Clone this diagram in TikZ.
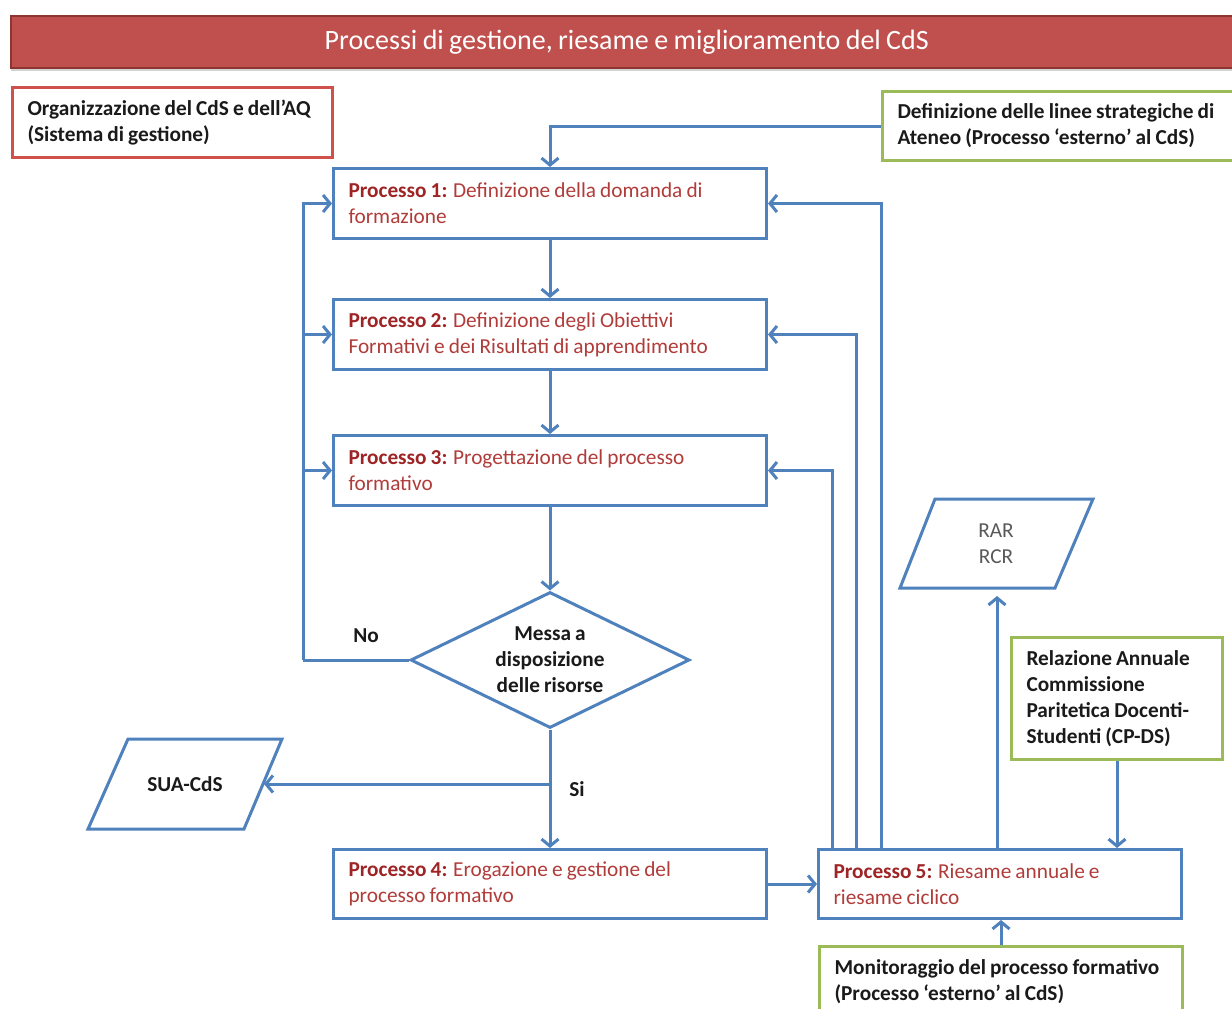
\documentclass[tikz,border=0pt]{standalone}
\usepackage{fontspec}
\setmainfont{Carlito}[WordSpace={0.85,0,0}]
\usetikzlibrary{arrows.meta,shapes.geometric,shadows}
\definecolor{lblue}{HTML}{4F81BD}
\definecolor{tred}{HTML}{C0504D}
\definecolor{tredborder}{HTML}{8E3431}
\definecolor{pdark}{HTML}{9E2426}
\definecolor{ptext}{HTML}{B03C3A}
\definecolor{lgreen}{HTML}{9BBB59}
\definecolor{orgred}{HTML}{D0504D}
\definecolor{txt}{HTML}{1A1A1A}
\definecolor{graytxt}{HTML}{595959}
\begin{document}
\begin{tikzpicture}[x=1pt,y=-1pt,
  base/.style={font=\fontsize{21.3pt}{26pt}\selectfont},
  bbase/.style={font=\fontsize{21.3pt}{26pt}\selectfont\bfseries},
  proc/.style={base, draw=lblue, line width=3pt, text=ptext, align=flush left, text width=403pt, inner xsep=15pt, inner ysep=0pt, minimum height=70pt, anchor=north west},
  gbox/.style={bbase, draw=lgreen, line width=3pt, text=txt, align=flush left, inner xsep=15pt, inner ysep=0pt, anchor=north west},
  conn/.style={draw=lblue, line width=3pt},
  arr/.style={conn, -{Straight Barb[length=7pt,width=17pt]}},
  lbl/.style={bbase, text=txt, inner sep=0pt}
]
\useasboundingbox (0,0) rectangle (1232,1009);

% title bar
\node[fill=tred, draw=tredborder, line width=1.5pt, text=white, minimum width=1232pt, minimum height=52pt, anchor=north west, font=\fontsize{28pt}{32pt}\selectfont, drop shadow={shadow xshift=0pt, shadow yshift=-3pt, opacity=0.35}] (title) at (10,15) {Processi di gestione, riesame e miglioramento del CdS};

% organisation box
\node[bbase, draw=orgred, line width=3pt, text=txt, align=flush left, text width=290pt, inner xsep=15pt, inner ysep=0pt, minimum height=70pt, anchor=north west] (org) at (11,86) {Organizzazione del CdS e dell’AQ\\(Sistema di gestione)};

% strategic lines box
\node[gbox, text width=340pt, minimum height=69pt] (def) at (881,90) {Definizione delle linee strategiche di\\Ateneo (Processo ‘esterno’ al CdS)};

% process boxes
\node[proc] (p1) at (332,167) {\textbf{\color{pdark}Processo 1:} Definizione della domanda di\\formazione};
\node[proc] (p2) at (332,298) {\textbf{\color{pdark}Processo 2:} Definizione degli Obiettivi\\Formativi e dei Risultati di apprendimento};
\node[proc] (p3) at (332,434) {\textbf{\color{pdark}Processo 3:} Progettazione del processo\\formativo};
\node[proc, minimum height=69pt] (p4) at (332,848) {\textbf{\color{pdark}Processo 4:} Erogazione e gestione del\\processo formativo};
\node[proc, text width=333pt, minimum height=69pt] (p5) at (817,848) {\textbf{\color{pdark}Processo 5:} Riesame annuale e\\riesame ciclico};

% decision
\node[diamond, draw=lblue, line width=3pt, inner sep=0pt, minimum width=279pt, minimum height=136pt] (dia) at (550,660) {};
\node[lbl, align=center] (diatext) at (dia.center) {Messa a\\disposizione\\delle risorse};

% documents (parallelograms)
\draw[conn, line join=miter] (935,499) -- (1093,499) -- (1055,588) -- (900,588) -- cycle;
\node[base, text=graytxt, align=center, inner sep=0pt] (rar) at (996,544) {RAR\\RCR};
\draw[conn, line join=miter] (128,739) -- (282,739) -- (244,829) -- (88,829) -- cycle;
\node[lbl] (sua) at (185,784) {SUA-CdS};

% CP-DS report and monitoring
\node[gbox, text width=181pt, minimum height=122pt] (cp) at (1010,636) {Relazione Annuale\\Commissione\\Paritetica Docenti-\\Studenti (CP-DS)};
\node[gbox, text width=333pt, minimum height=70pt] (mon) at (818,945) {Monitoraggio del processo formativo\\(Processo ‘esterno’ al CdS)};

% labels
\node[lbl] (no) at (366,636) {No};
\node[lbl] (si) at (577,789) {Si};

% coordinates
\coordinate (lx) at (303,660);
\coordinate (r1) at (881,0);
\coordinate (r2) at (856,0);
\coordinate (r3) at (832,0);
\coordinate (rarin) at (997,596);
\coordinate (suain) at (264,784);

% connectors
\draw[arr] (def.west) -| (p1.north);
\draw[arr] (p1.south) -- (p2.north);
\draw[arr] (p2.south) -- (p3.north);
\draw[arr] (p3.south) -- (p3.south |- dia.north);
\draw[conn] (dia.west) -- (lx);
\draw[arr] (lx) |- (p1.west);
\draw[arr] (lx |- p2.west) -- (p2.west);
\draw[arr] (lx |- p3.west) -- (p3.west);
\draw[arr] (dia.south) -- (dia.south |- p4.north);
\draw[arr] (dia.south |- suain) -- (suain);
\draw[arr] (p4.east) -- (p5.west);
\draw[arr] (p5.north -| r1) |- (p1.east);
\draw[arr] (p5.north -| r2) |- (p2.east);
\draw[arr] (p5.north -| r3) |- (p3.east);
\draw[arr] (p5.north -| rarin) -- (rarin);
\draw[arr] (cp.south) -- (cp.south |- p5.north);
\draw[arr] (mon.north) -- (mon.north |- p5.south);
\end{tikzpicture}
\end{document}
